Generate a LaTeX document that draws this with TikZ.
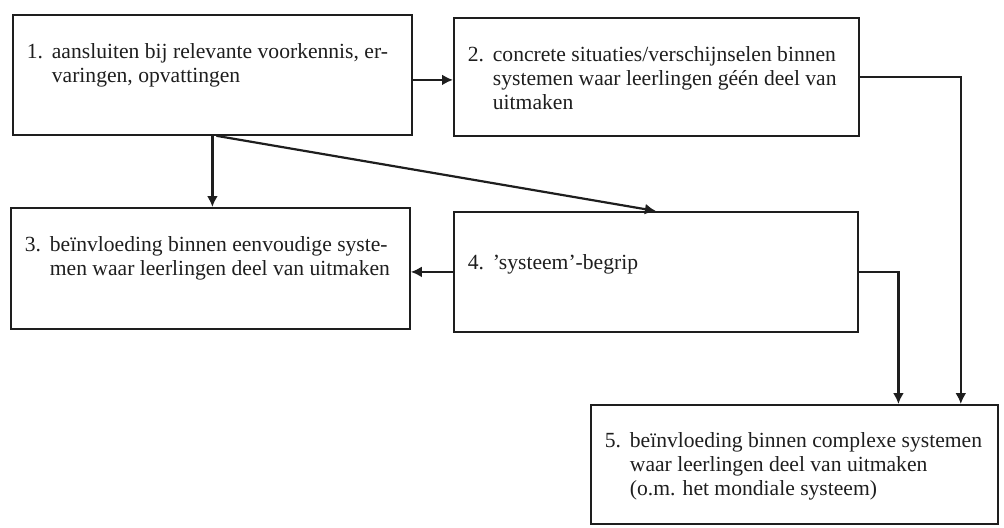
\documentclass[tikz,border=0pt]{standalone}
\usepackage{fontspec}
\setmainfont{Liberation Serif}
\usetikzlibrary{arrows.meta,calc}
\definecolor{inkt}{HTML}{1E1E1E}
\tikzset{
  kader/.style={draw=inkt, line width=0.9pt, anchor=north west, inner xsep=7pt, inner ysep=0pt,
    font=\fontsize{10.8}{11.8}\selectfont, text=inkt},
  pijl/.style={-{Latex[length=5.5pt,width=5.5pt]}, draw=inkt, line width=1.1pt},
}
% breedte, hoogte, eerste basislijn, nummer, tekst
\newcommand{\vak}[5]{\parbox[t][#2][t]{#1}{\raggedright\vspace*{\dimexpr#3-\ht\strutbox\relax}%
  \leftskip=12.5pt\noindent\strut\llap{\makebox[12.5pt][l]{#4}}#5}}

\begin{document}
\begin{tikzpicture}[x=0.5pt,y=-0.5pt]
    \useasboundingbox (0,0) rectangle (1004,527);
    \node[kader] (b1) at (12,14) {\vak{185.5pt}{60pt}{22pt}{1.}{aansluiten bij relevante voorkennis, er-\\varingen, opvattingen}};
    \node[kader] (b2) at (453,17) {\vak{188.5pt}{59pt}{22pt}{2.}{concrete situaties/verschijnselen binnen\\systemen waar leerlingen géén deel van\\uitmaken}};
    \node[kader] (b3) at (10,207) {\vak{185.5pt}{60.5pt}{22pt}{3.}{beïnvloeding binnen eenvoudige syste-\\men waar leerlingen deel van uitmaken}};
    \node[kader] (b4) at (453,211) {\vak{188pt}{60pt}{29pt}{4.}{’systeem’-begrip}};
    \node[kader] (b5) at (590,404) {\vak{189.5pt}{59.5pt}{21.5pt}{5.}{beïnvloeding binnen complexe systemen\\waar leerlingen deel van uitmaken\\(o.m. het mondiale systeem)}};
    \coordinate (k25) at ($(b5.north east)+(-38,0)$);
    \coordinate (k45) at ($(b5.north)+(104,0)$);
    \draw[pijl] ([yshift=-2.5pt]b1.east) -- ([yshift=-2.5pt]b1.east -| b2.west);
    \draw[pijl] (b1.south) -- (b1.south |- b3.north);
    \draw[pijl] ([xshift=2pt]b1.south) -- (b4.north);
    \draw[pijl] (b4.west) -- (b4.west -| b3.east);
    \draw[pijl] (b2.east) -| (k25);
    \draw[pijl] (b4.east) -| (k45);
\end{tikzpicture}
\end{document}
